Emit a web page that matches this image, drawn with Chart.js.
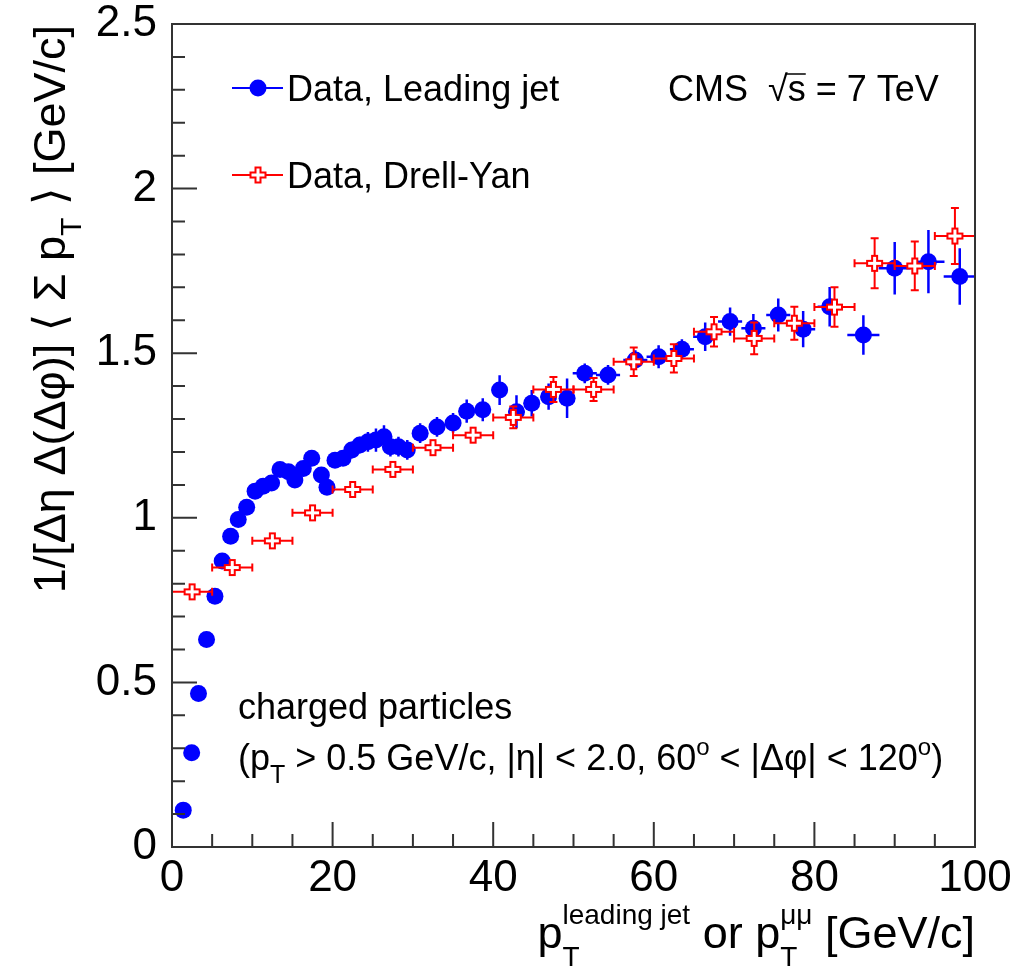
<!DOCTYPE html>
<html>
<head>
<meta charset="utf-8">
<script src="https://cdn.jsdelivr.net/npm/chart.js@4.4.0/dist/chart.umd.min.js"></script>
<style>
  body { margin: 0; background: #fff; }
  #wrap { width: 1033px; height: 975px; }
</style>
</head>
<body>
<div id="wrap"><canvas id="c"></canvas></div>
<script>
const FONT = "'Liberation Sans', Arial, 'DejaVu Sans', sans-serif";

// leading jet (blue full circles)
const xLead = [1.4, 2.45, 3.3, 4.3, 5.35, 6.25, 7.3, 8.25, 9.3, 10.35,
  11.35, 12.4, 13.45, 14.5, 15.3, 16.35, 17.4, 18.6, 19.3, 20.3,
  21.3, 22.4, 23.4, 24.4, 25.4, 26.4, 27.2, 28.2, 29.3, 30.9,
  33.0, 35.0, 36.7, 38.7, 40.8, 42.9, 44.8, 46.9, 49.2, 51.4,
  54.3, 57.7, 60.6, 63.5, 66.4, 69.5, 72.4, 75.5, 78.6, 81.9,
  86.1, 90.0, 94.2, 98.1];
const yLead = [0.112, 0.286, 0.466, 0.630, 0.762, 0.869, 0.944, 0.995, 1.032, 1.081,
  1.096, 1.106, 1.147, 1.140, 1.115, 1.150, 1.181, 1.130, 1.093, 1.175,
  1.181, 1.206, 1.221, 1.231, 1.236, 1.246, 1.216, 1.216, 1.206, 1.257,
  1.276, 1.288, 1.324, 1.328, 1.388, 1.322, 1.348, 1.368, 1.363, 1.439,
  1.434, 1.479, 1.489, 1.512, 1.550, 1.596, 1.576, 1.616, 1.573, 1.641,
  1.555, 1.758, 1.778, 1.733];
const exLead = [0.5, 0.5, 0.5, 0.5, 0.5, 0.5, 0.5, 0.5, 0.5, 0.5,
  0.5, 0.5, 0.5, 0.5, 0.5, 0.5, 0.5, 0.5, 0.5, 0.5,
  0.5, 0.5, 0.5, 0.5, 0.5, 0.5, 0.5, 0.5, 0.5, 1,
  1, 1, 1, 1, 1, 1, 1, 1, 1, 1.5,
  1.5, 1.5, 1.5, 1.5, 1.5, 1.5, 1.5, 1.5, 1.5, 1.5,
  2, 2, 2, 2];
const eyLead = [0.005, 0.005, 0.005, 0.005, 0.005, 0.005, 0.005, 0.005, 0.005, 0.005,
  0.005, 0.005, 0.005, 0.005, 0.005, 0.005, 0.005, 0.005, 0.005, 0.02,
  0.02, 0.025, 0.025, 0.03, 0.035, 0.035, 0.03, 0.03, 0.03, 0.03,
  0.03, 0.03, 0.035, 0.035, 0.045, 0.05, 0.04, 0.04, 0.06, 0.03,
  0.03, 0.03, 0.035, 0.03, 0.043, 0.043, 0.043, 0.05, 0.055, 0.06,
  0.06, 0.08, 0.096, 0.086];

// Drell-Yan (red open crosses)
const xDY = [2.5, 7.5, 12.5, 17.5, 22.5, 27.5, 32.5, 37.5, 42.5, 47.5,
  52.5, 57.5, 62.5, 67.5, 72.5, 77.5, 82.5, 87.5, 92.5, 97.5];
const yDY = [0.775, 0.849, 0.930, 1.015, 1.086, 1.147, 1.213, 1.251, 1.305, 1.390,
  1.390, 1.474, 1.484, 1.565, 1.545, 1.591, 1.640, 1.773, 1.765, 1.856];
const exDY = [2.5, 2.5, 2.5, 2.5, 2.5, 2.5, 2.5, 2.5, 2.5, 2.5,
  2.5, 2.5, 2.5, 2.5, 2.5, 2.5, 2.5, 2.5, 2.5, 2.5];
const eyDY = [0.005, 0.006, 0.008, 0.01, 0.012, 0.015, 0.018, 0.02, 0.033, 0.038,
  0.035, 0.043, 0.043, 0.045, 0.048, 0.05, 0.06, 0.076, 0.074, 0.085];

const BLUE = '#0000ff';
const RED = '#ff0000';
const AXIS = '#333333';

function toPoints(xs, ys, exs, eys) {
  return xs.map((x, i) => ({ x: x, y: ys[i], xerr: exs[i], yerr: eys[i] }));
}

// open cross marker
function crossMarker() {
  const c = document.createElement('canvas');
  c.width = 19; c.height = 19;
  const g = c.getContext('2d');
  const m = 9.5, o = 7.5, a = 2.5;
  g.beginPath();
  g.moveTo(m - a, m - o); g.lineTo(m + a, m - o); g.lineTo(m + a, m - a);
  g.lineTo(m + o, m - a); g.lineTo(m + o, m + a); g.lineTo(m + a, m + a);
  g.lineTo(m + a, m + o); g.lineTo(m - a, m + o); g.lineTo(m - a, m + a);
  g.lineTo(m - o, m + a); g.lineTo(m - o, m - a); g.lineTo(m - a, m - a);
  g.closePath();
  g.fillStyle = '#fff'; g.fill();
  g.strokeStyle = RED; g.lineWidth = 2; g.stroke();
  return c;
}
const crossImg = crossMarker();

function richText(ctx, parts, x, y, align) {
  let w = 0;
  parts.forEach(p => {
    ctx.font = p.size + 'px ' + FONT;
    p.w = ctx.measureText(p.t).width;
    if (!p.keep) w += p.w;
  });
  let cx = align === 'right' ? x - w : x;
  parts.forEach(p => {
    ctx.font = p.size + 'px ' + FONT;
    ctx.fillText(p.t, cx, y + (p.dy || 0));
    if (!p.keep) cx += p.w;
  });
  return cx;
}

const errorBars = {
  id: 'errorBars',
  beforeDatasetDraw(chart, args) {
    const ds = chart.data.datasets[args.index];
    const xs = chart.scales.x, ys = chart.scales.y;
    const ctx = chart.ctx;
    const area = chart.chartArea;
    ctx.save();
    ctx.beginPath();
    ctx.rect(area.left, area.top, area.right - area.left, area.bottom - area.top);
    ctx.clip();
    ctx.strokeStyle = ds.borderColor;
    ctx.lineWidth = ds.caps ? 2 : 2.5;
    ds.data.forEach(p => {
      const px = xs.getPixelForValue(p.x), py = ys.getPixelForValue(p.y);
      const xl = xs.getPixelForValue(p.x - p.xerr), xr = xs.getPixelForValue(p.x + p.xerr);
      const yt = ys.getPixelForValue(p.y + p.yerr), yb = ys.getPixelForValue(p.y - p.yerr);
      ctx.beginPath();
      ctx.moveTo(xl, py); ctx.lineTo(xr, py);
      ctx.moveTo(px, yt); ctx.lineTo(px, yb);
      if (ds.caps) {
        ctx.moveTo(xl, py - 4); ctx.lineTo(xl, py + 4);
        ctx.moveTo(xr, py - 4); ctx.lineTo(xr, py + 4);
        if (yb - yt > 16) {
          ctx.moveTo(px - 4, yt); ctx.lineTo(px + 4, yt);
          ctx.moveTo(px - 4, yb); ctx.lineTo(px + 4, yb);
        }
      }
      ctx.stroke();
    });
    ctx.restore();
  }
};

const frameAndText = {
  id: 'frameAndText',
  afterDraw(chart) {
    const ctx = chart.ctx;
    const a = chart.chartArea;
    const xs = chart.scales.x, ys = chart.scales.y;
    ctx.save();
    // frame
    ctx.strokeStyle = AXIS;
    ctx.lineWidth = 2;
    ctx.strokeRect(a.left, a.top, a.right - a.left, a.bottom - a.top);
    // inner ticks
    ctx.beginPath();
    xs.ticks.forEach(t => {
      const px = xs.getPixelForValue(t.value);
      const len = Math.round(t.value) % 20 === 0 ? 25 : 13;
      ctx.moveTo(px, a.bottom); ctx.lineTo(px, a.bottom - len);
    });
    ys.ticks.forEach(t => {
      const py = ys.getPixelForValue(t.value);
      const len = Math.round(t.value * 10) % 5 === 0 ? 25 : 13;
      ctx.moveTo(a.left, py); ctx.lineTo(a.left + len, py);
    });
    ctx.stroke();

    ctx.fillStyle = '#000';
    ctx.textBaseline = 'alphabetic';

    // y title
    ctx.save();
    ctx.translate(65, 25);
    ctx.rotate(-Math.PI / 2);
    richText(ctx, [
      { t: '1/[\u0394\u03b7 \u0394(\u0394\u03c6)] \u27e8 \u03a3 p', size: 45 },
      { t: 'T', size: 30, dy: 16 },
      { t: ' \u27e9 [GeV/c]', size: 45 }
    ], 0, 0, 'right');
    ctx.restore();

    // x title
    richText(ctx, [
      { t: 'p', size: 45 },
      { t: 'T', size: 28, dy: 18, keep: true },
      { t: 'leading jet', size: 28, dy: -24 },
      { t: ' or p', size: 45 },
      { t: 'T', size: 28, dy: 18, keep: true },
      { t: '\u03bc\u03bc', size: 28, dy: -24 },
      { t: ' [GeV/c]', size: 45 }
    ], 975, 948, 'right');

    // legend
    ctx.strokeStyle = BLUE; ctx.lineWidth = 2;
    ctx.beginPath(); ctx.moveTo(232, 88); ctx.lineTo(283, 88); ctx.stroke();
    ctx.fillStyle = BLUE;
    ctx.beginPath(); ctx.arc(258, 88, 8.5, 0, Math.PI * 2); ctx.fill();
    ctx.strokeStyle = RED;
    ctx.beginPath(); ctx.moveTo(232, 175); ctx.lineTo(283, 175); ctx.stroke();
    ctx.drawImage(crossImg, 258 - 9.5, 175 - 9.5);
    ctx.fillStyle = '#000';
    ctx.font = '36px ' + FONT;
    ctx.fillText('Data, Leading jet', 287, 101);
    ctx.fillText('Data, Drell-Yan', 287, 188);

    // CMS label
    let cx = richText(ctx, [{ t: 'CMS  \u221a', size: 36 }], 668, 101, 'left');
    ctx.font = '36px ' + FONT;
    const sw = ctx.measureText('s').width;
    ctx.fillText('s', cx, 101);
    ctx.strokeStyle = '#000'; ctx.lineWidth = 1.5;
    ctx.beginPath(); ctx.moveTo(cx - 2, 74); ctx.lineTo(cx + sw, 74); ctx.stroke();
    ctx.fillText(' = 7 TeV', cx + sw, 101);

    // selection text
    ctx.font = '36px ' + FONT;
    ctx.fillText('charged particles', 238, 719);
    richText(ctx, [
      { t: '(p', size: 36 },
      { t: 'T', size: 25, dy: 13 },
      { t: ' > 0.5 GeV/c, |\u03b7| < 2.0, 60', size: 36 },
      { t: 'o', size: 24, dy: -15 },
      { t: ' < |\u0394\u03c6| < 120', size: 36 },
      { t: 'o', size: 24, dy: -15 },
      { t: ')', size: 36 }
    ], 238, 770, 'left');
    ctx.restore();
  }
};

const chart = new Chart(document.getElementById('c'), {
  type: 'scatter',
  data: {
    datasets: [
      {
        label: 'Data, Leading jet',
        data: toPoints(xLead, yLead, exLead, eyLead),
        borderColor: BLUE,
        backgroundColor: BLUE,
        pointRadius: 8.5,
        pointBorderWidth: 0,
        order: 2
      },
      {
        label: 'Data, Drell-Yan',
        data: toPoints(xDY, yDY, exDY, eyDY),
        borderColor: RED,
        backgroundColor: RED,
        pointStyle: crossImg,
        caps: true,
        order: 1
      }
    ]
  },
  options: {
    responsive: true,
    maintainAspectRatio: false,
    animation: false,
    layout: { padding: { top: 24, right: 58, left: 0, bottom: 0 } },
    plugins: { legend: { display: false }, tooltip: { enabled: false } },
    scales: {
      x: {
        type: 'linear', min: 0, max: 100,
        grid: { display: false, drawTicks: false },
        border: { display: false },
        afterFit: s => { s.height = 128; s.paddingLeft = 0; s.paddingRight = 0; },
        ticks: {
          stepSize: 5, autoSkip: false, maxRotation: 0, padding: 5,
          color: '#000', font: { family: FONT, size: 44 },
          callback: v => (Math.round(v) % 20 === 0 ? String(Math.round(v)) : '')
        }
      },
      y: {
        type: 'linear', min: 0, max: 2.5,
        grid: { display: false, drawTicks: false },
        border: { display: false },
        afterFit: s => { s.width = 172; s.paddingTop = 0; s.paddingBottom = 0; },
        ticks: {
          stepSize: 0.1, autoSkip: false, padding: 15,
          color: '#000', font: { family: FONT, size: 44 },
          callback: v => {
            const k = Math.round(v * 10);
            return k % 5 === 0 ? String(k / 10) : '';
          }
        }
      }
    }
  },
  plugins: [errorBars, frameAndText]
});
</script>
</body>
</html>
